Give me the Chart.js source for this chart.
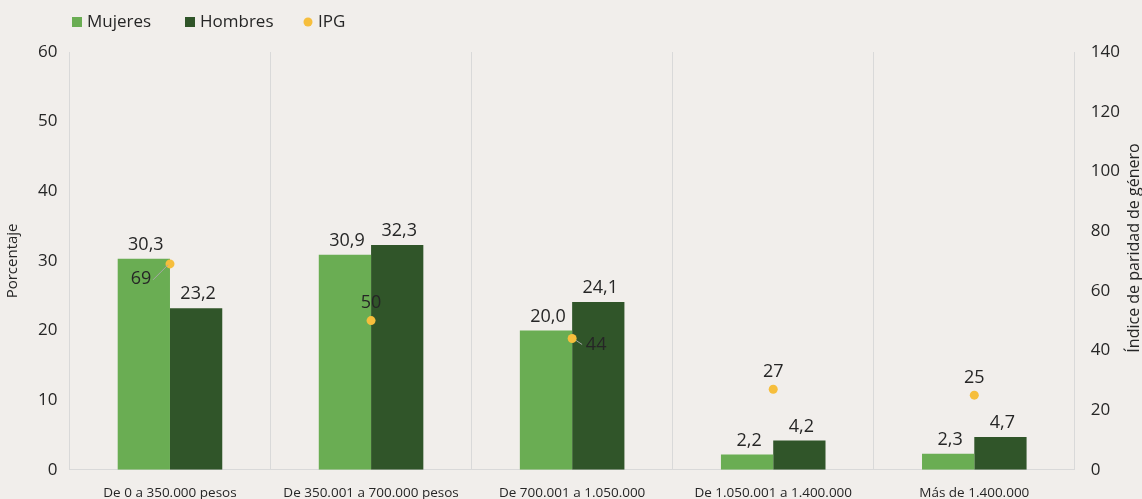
<!DOCTYPE html>
<html lang="es">
<head>
    <meta charset="UTF-8">
    <title>Porcentaje e IPG por tramo de ingreso</title>
    <script src="https://cdn.jsdelivr.net/npm/chart.js"></script>
    <style>
        html, body { margin: 0; padding: 0; background-color: #f1eeeb; overflow: hidden; }
        #wrap { width: 1142px; height: 499px; }
    </style>
</head>
<body>
    <div id="wrap"><canvas id="ingresoChart"></canvas></div>

    <script>
        // datos
        const categorias = ["De 0 a 350.000 pesos", "De 350.001 a 700.000 pesos", "De 700.001 a 1.050.000", "De 1.050.001 a 1.400.000", "Más de 1.400.000"];
        const mujeres = [30.3, 30.9, 20.0, 2.2, 2.3];
        const hombres = [23.2, 32.3, 24.1, 4.2, 4.7];
        const ipg = [69, 50, 44, 27, 25];

        const fuente = "'Open Sans', sans-serif";
        const colorTexto = "#262626";
        const colorGrid = "#d9d9d9";

        // etiquetas de valores (barras con coma decimal, IPG con desplazamiento)
        const etiquetasPlugin = {
            id: "etiquetas",
            afterDatasetsDraw(chart, args, opts) {
                const ctx = chart.ctx;
                ctx.save();
                ctx.font = "18px " + fuente;
                ctx.fillStyle = colorTexto;
                ctx.textAlign = "center";
                ctx.textBaseline = "middle";
                [0, 1].forEach(d => {
                    chart.getDatasetMeta(d).data.forEach((bar, i) => {
                        let v = chart.data.datasets[d].data[i];
                        ctx.fillText(v.toFixed(1).replace(".", ","), bar.x + 2, bar.y - 14);
                    });
                });
                chart.getDatasetMeta(2).data.forEach((pt, i) => {
                    let off = opts.ipgOffsets[i];
                    let lx = pt.x + off[0], ly = pt.y + off[1];
                    if (off[2]) {
                        ctx.strokeStyle = "#a6a6a6";
                        ctx.lineWidth = 1;
                        ctx.beginPath();
                        ctx.moveTo(pt.x + off[2][0], pt.y + off[2][1]);
                        ctx.lineTo(pt.x + off[2][2], pt.y + off[2][3]);
                        ctx.stroke();
                    }
                    ctx.fillText(String(chart.data.datasets[2].data[i]), lx, ly);
                });
                ctx.restore();
            }
        };

        // leyenda y titulo del eje derecho
        const extrasPlugin = {
            id: "extras",
            afterDraw(chart, args, opts) {
                const ctx = chart.ctx;
                ctx.save();
                ctx.font = "17px " + fuente;
                ctx.textBaseline = "middle";
                ctx.textAlign = "left";
                const y = 22;
                chart.data.datasets.forEach((ds, i) => {
                    let x = opts.legendX[i];
                    ctx.fillStyle = ds.backgroundColor;
                    if (ds.type === "line") {
                        ctx.beginPath();
                        ctx.arc(x + 5, y, 4.5, 0, Math.PI * 2);
                        ctx.fill();
                    } else {
                        ctx.fillRect(x, y - 5, 10, 10);
                    }
                    ctx.fillStyle = colorTexto;
                    ctx.fillText(ds.label, x + 15, y);
                });

                ctx.font = "16px " + fuente;
                ctx.textAlign = "center";
                ctx.translate(1134, 248);
                ctx.rotate(-Math.PI / 2);
                ctx.fillText("Índice de paridad de género", 0, 0);
                ctx.restore();
            }
        };

        const ctx = document.getElementById("ingresoChart").getContext("2d");
        new Chart(ctx, {
            data: {
                labels: categorias,
                datasets: [
                    {
                        type: "bar",
                        label: "Mujeres",
                        data: mujeres,
                        backgroundColor: "#6aad53",
                        yAxisID: "y",
                        order: 1,
                        categoryPercentage: 0.52,
                        barPercentage: 1.0
                    },
                    {
                        type: "bar",
                        label: "Hombres",
                        data: hombres,
                        backgroundColor: "#305529",
                        yAxisID: "y",
                        order: 1,
                        categoryPercentage: 0.52,
                        barPercentage: 1.0
                    },
                    {
                        type: "line",
                        label: "IPG",
                        data: ipg,
                        yAxisID: "y1",
                        showLine: false,
                        backgroundColor: "#f6be3c",
                        borderColor: "#f6be3c",
                        pointRadius: 4.5,
                        pointBorderWidth: 0,
                        order: 0
                    }
                ]
            },
            options: {
                responsive: true,
                maintainAspectRatio: false,
                animation: false,
                layout: { padding: { top: 52, left: 4, right: 6, bottom: -17 } },
                plugins: {
                    legend: { display: false },
                    tooltip: { enabled: false },
                    etiquetas: {
                        ipgOffsets: [
                            [-29, 15, [-17, 16, -2, 1]],
                            [0, -18],
                            [24, 6, [4, 2, 10, 6]],
                            [0, -17],
                            [0, -17]
                        ]
                    },
                    extras: { legendX: [72, 185, 303] }
                },
                scales: {
                    x: {
                        offset: true,
                        grid: { display: true, offset: true, drawTicks: false, color: colorGrid },
                        border: { display: true, color: colorGrid },
                        ticks: { color: colorTexto, padding: 15, maxRotation: 0, autoSkip: false, font: { family: fuente, size: 13.5 } }
                    },
                    y: {
                        position: "left",
                        min: 0,
                        max: 60,
                        grid: { display: false, drawTicks: false },
                        border: { display: true, color: colorGrid },
                        ticks: { stepSize: 10, color: colorTexto, padding: 12, font: { family: fuente, size: 17 } },
                        title: { display: true, text: "Porcentaje", color: colorTexto, font: { family: fuente, size: 15 }, padding: { top: 0, bottom: 4 } }
                    },
                    y1: {
                        position: "right",
                        min: 0,
                        max: 140,
                        grid: { display: false, drawTicks: false },
                        border: { display: true, color: colorGrid },
                        ticks: { stepSize: 20, color: colorTexto, padding: 16, font: { family: fuente, size: 17 } }
                    }
                }
            },
            plugins: [etiquetasPlugin, extrasPlugin]
        });
    </script>
</body>
</html>
